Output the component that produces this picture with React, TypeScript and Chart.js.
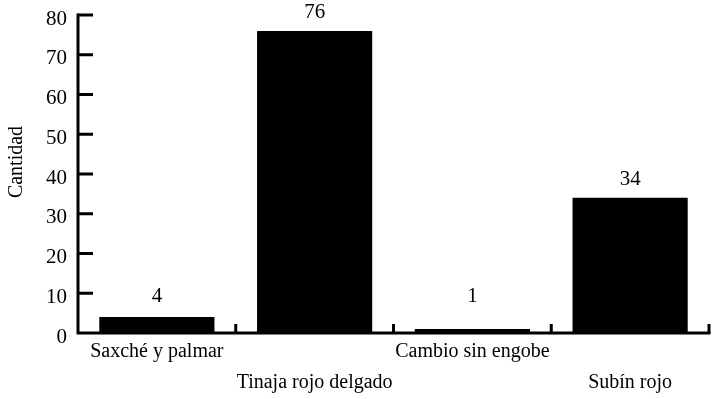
import React, { useEffect, useRef } from 'react';
import { Chart, registerables } from 'chart.js';

Chart.register(...registerables);

const categories = ['Saxché y palmar', 'Tinaja rojo delgado', 'Cambio sin engobe', 'Subín rojo'];
const values = [4, 76, 1, 34];
const yMin = 0;
const yMax = 80;
const yStep = 10;
const yTitle = 'Cantidad';

const FONT = "'Liberation Serif', 'Times New Roman', serif";

const axesPlugin = {
  id: 'customAxes',
  afterDatasetsDraw(chart: any) {
    const ctx = chart.ctx;
    const area = chart.chartArea;
    const xs = chart.scales.x;
    const ys = chart.scales.y;
    const bottom = ys.getPixelForValue(yMin);
    ctx.save();
    // value labels
    ctx.fillStyle = '#000';
    ctx.font = `21px ${FONT}`;
    ctx.textAlign = 'center';
    ctx.textBaseline = 'alphabetic';
    const meta = chart.getDatasetMeta(0);
    meta.data.forEach((bar: any, i: number) => {
      ctx.fillText(String(values[i]), bar.x, Math.min(bar.y - 13, bottom - 31));
    });
    // axes
    ctx.strokeStyle = '#000';
    ctx.lineWidth = 3;
    ctx.lineCap = 'butt';
    const left = area.left;
    ctx.beginPath();
    ctx.moveTo(left, ys.getPixelForValue(yMax) - 1.5);
    ctx.lineTo(left, bottom + 1.5);
    ctx.moveTo(left - 1.5, bottom);
    ctx.lineTo(area.right + 1.5, bottom);
    ctx.stroke();
    // y ticks (inward)
    ctx.beginPath();
    for (let v = yMin + yStep; v <= yMax; v += yStep) {
      const py = ys.getPixelForValue(v);
      ctx.moveTo(left, py);
      ctx.lineTo(left + 15, py);
    }
    // x ticks at category boundaries (inward)
    for (let i = 0; i < categories.length; i++) {
      const px = (xs.getPixelForValue(i) + (i < categories.length - 1 ? xs.getPixelForValue(i + 1) : 2 * xs.getPixelForValue(i) - xs.getPixelForValue(i - 1))) / 2;
      ctx.moveTo(px, bottom);
      ctx.lineTo(px, bottom - 9);
    }
    ctx.stroke();
    // y title
    ctx.translate(17, 162);
    ctx.rotate(-Math.PI / 2);
    ctx.font = `20px ${FONT}`;
    ctx.textAlign = 'center';
    ctx.textBaseline = 'middle';
    ctx.fillText(yTitle, 0, 0);
    ctx.restore();
  },
};

export default function App() {
  const ref = useRef<HTMLCanvasElement | null>(null);
  useEffect(() => {
    if (!ref.current) return;
    const chart = new Chart(ref.current, {
      type: 'bar',
      data: {
        labels: categories,
        datasets: [
          {
            data: values,
            backgroundColor: '#000',
            borderWidth: 0,
            categoryPercentage: 1,
            barPercentage: 0.73,
          },
        ],
      },
      options: {
        animation: false,
        responsive: true,
        maintainAspectRatio: false,
        layout: { padding: { top: 15, right: 10, left: 0, bottom: 0 } },
        plugins: { legend: { display: false }, tooltip: { enabled: false } },
        scales: {
          x: {
            type: 'category',
            grid: { display: false, drawTicks: false },
            border: { display: false },
            afterFit: (s: any) => {
              s.height = 66;
              s.paddingLeft = 0;
              s.paddingRight = 0;
            },
            ticks: {
              autoSkip: false,
              maxRotation: 0,
              minRotation: 0,
              padding: 3,
              color: '#000',
              font: { family: FONT, size: 20, lineHeight: 1.55 },
              callback: (_v: any, i: number) => (i % 2 === 0 ? [categories[i], ''] : ['', categories[i]]),
            },
          },
          y: {
            min: yMin,
            max: yMax,
            grid: { display: false, drawTicks: false },
            border: { display: false },
            afterFit: (s: any) => {
              s.width = 78;
              s.paddingTop = 0;
              s.paddingBottom = 0;
            },
            ticks: {
              stepSize: yStep,
              padding: 11,
              labelOffset: 4,
              color: '#000',
              font: { family: FONT, size: 21 },
            },
          },
        },
      },
      plugins: [axesPlugin],
    });
    return () => chart.destroy();
  }, []);
  return (
    <div style={{ position: 'absolute', left: 0, top: 0, width: 719, height: 399 }}>
      <canvas ref={ref} />
    </div>
  );
}
